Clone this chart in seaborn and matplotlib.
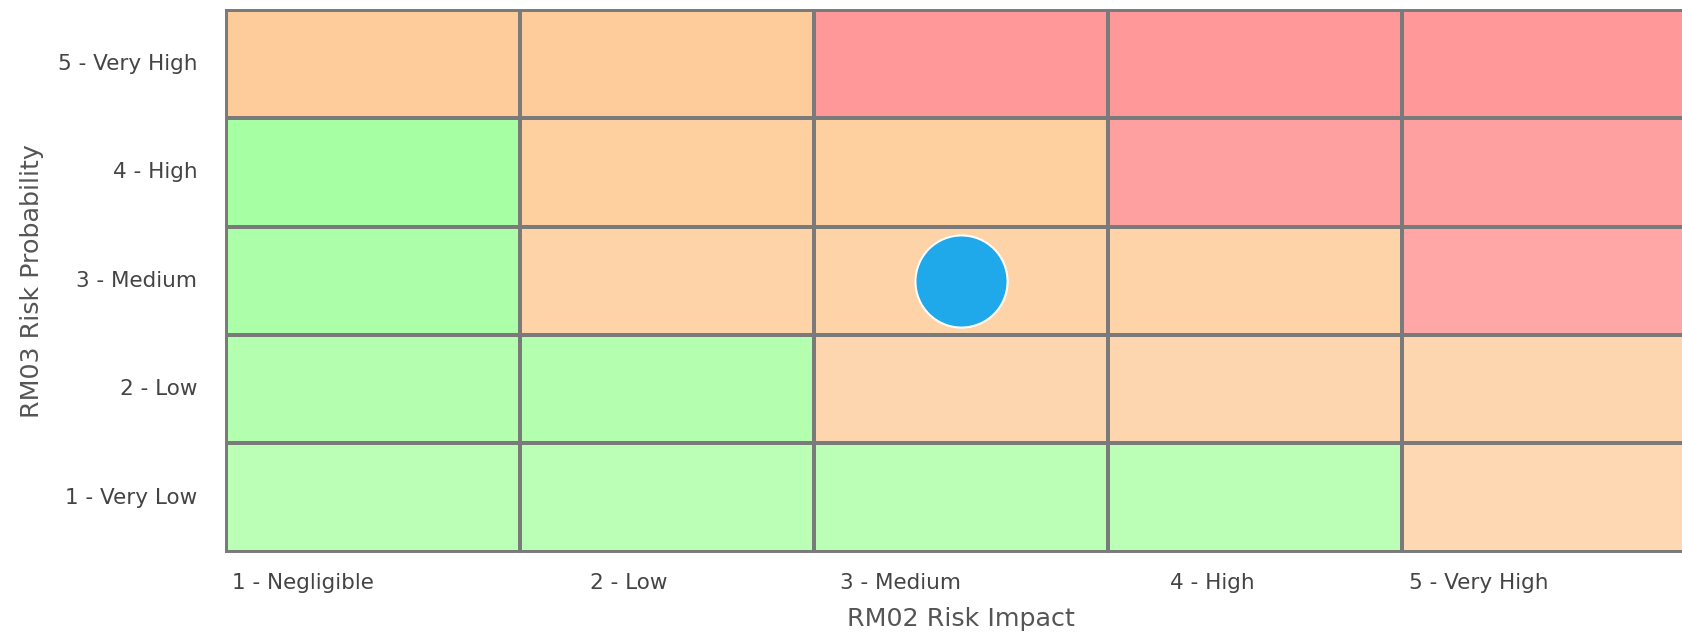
import numpy as np
import pandas as pd
import matplotlib.pyplot as plt
import seaborn as sns
from matplotlib.colors import ListedColormap

# eixos da matriz de risco
impact_labels = ["1 - Negligible", "2 - Low", "3 - Medium", "4 - High", "5 - Very High"]
probability_labels = ["5 - Very High", "4 - High", "3 - Medium", "2 - Low", "1 - Very Low"]  # de cima para baixo

# zona de cada celula (G = verde, O = laranja, R = vermelho), linhas de cima para baixo
zones = [
    ["O", "O", "R", "R", "R"],
    ["G", "O", "O", "R", "R"],
    ["G", "O", "O", "O", "R"],
    ["G", "G", "O", "O", "O"],
    ["G", "G", "G", "G", "O"],
]

# tons por linha (leve degrade de cima para baixo)
green_shades = ["#A3FFA0", "#A6FFA3", "#ACFFA8", "#B3FFAF", "#BBFFB6"]
orange_shades = ["#FECC9A", "#FECF9F", "#FED3A7", "#FDD5AE", "#FDD8B2"]
red_shades = ["#FF9999", "#FFA0A0", "#FFA7A7", "#FFAAAA", "#FFAEAE"]

# ponto do risco avaliado
point_impact = ["3 - Medium"]
point_probability = ["3 - Medium"]

sns.set_style("white")
plt.rcParams['font.family'] = ['DejaVu Sans']

zone_order = {"G": 0, "O": 1, "R": 2}
codes = np.array([[zone_order[z] * 5 + i for z in row] for i, row in enumerate(zones)])
df = pd.DataFrame(codes, index=probability_labels, columns=impact_labels)
cmap = ListedColormap(green_shades + orange_shades + red_shades)

fig = plt.figure(figsize=(16.83, 6.33), dpi=100)
ax = fig.add_axes([226.5 / 1683, 1 - 551.7 / 633, 1469 / 1683, 542 / 633])

sns.heatmap(df, ax=ax, cmap=cmap, vmin=-0.5, vmax=14.5, cbar=False,
            linewidths=1.7, linecolor="#7a7a7a")

pts = pd.DataFrame({
    "x": [impact_labels.index(v) + 0.5 for v in point_impact],
    "y": [probability_labels.index(v) + 0.5 for v in point_probability],
})
sns.scatterplot(data=pts, x="x", y="y", ax=ax, s=4400, color="#1FA8EA",
                edgecolor="white", linewidth=1.5, zorder=5, legend=False)

ax.set_xlim(0, 5)
ax.set_ylim(5, 0)
ax.set_xticks(np.arange(5) + 0.5)
ax.set_yticks(np.arange(5) + 0.5)
ax.set_xticklabels(impact_labels, rotation=0, ha="right", fontsize=15.5, color="#444444")
ax.set_yticklabels(probability_labels, rotation=0, fontsize=15.5, color="#444444")
ax.tick_params(axis="x", length=0, pad=15)
ax.tick_params(axis="y", length=0, pad=21)

# borda externa com a mesma espessura das linhas internas
for spine in ax.spines.values():
    spine.set_visible(True)
    spine.set_color("#7a7a7a")
    spine.set_linewidth(1.4)

ax.set_xlabel("RM02 Risk Impact", fontsize=18.3, color="#555555")
ax.set_ylabel("RM03 Risk Probability", fontsize=18.3, color="#555555")
ax.xaxis.set_label_coords(0.5, -0.102)
ax.yaxis.set_label_coords(-0.124, 0.5)

plt.savefig("out.png", dpi=100)
